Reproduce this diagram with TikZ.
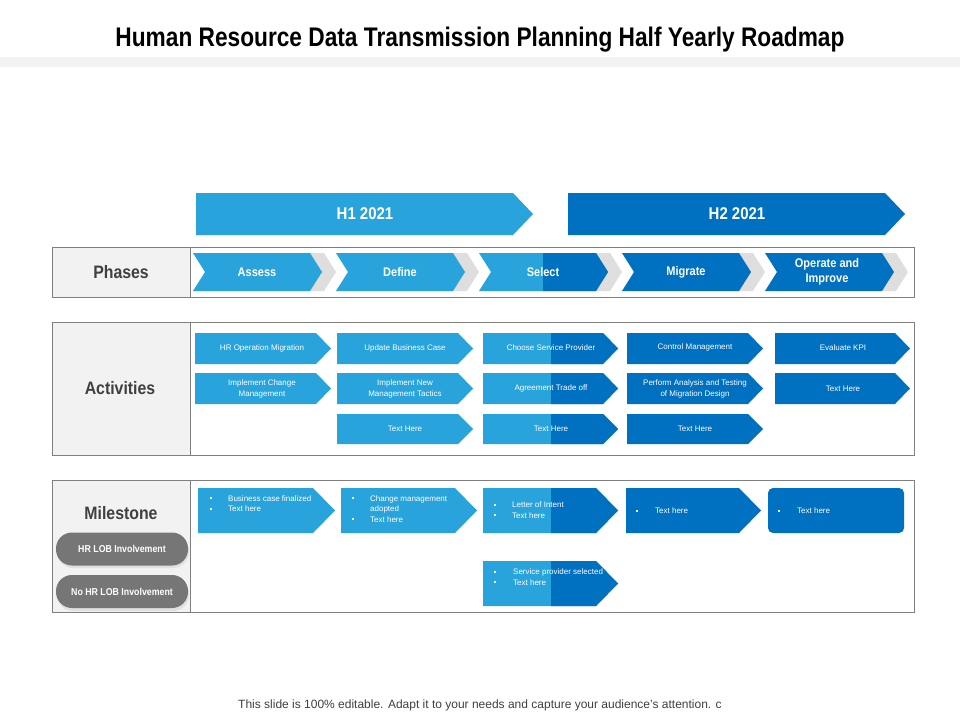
\documentclass[tikz,border=0pt]{standalone}
\usepackage{fontspec}
\setmainfont{Liberation Sans}
\newfontfamily\condb{Liberation Sans}[FakeStretch=0.88]
\definecolor{lb}{RGB}{41,163,219}
\definecolor{db}{RGB}{0,112,192}
\definecolor{cellgray}{RGB}{242,242,242}
\definecolor{bordergray}{RGB}{128,128,128}
\definecolor{labelgray}{RGB}{64,64,64}
\definecolor{btngray}{RGB}{118,118,118}
\definecolor{shadegray}{RGB}{222,222,222}
\newcommand\penta[6]{\fill[#6] (#1,#2) -- ({#3-#5},#2) -- (#3,{(#2+#4)/2}) -- ({#3-#5},#4) -- (#1,#4) -- cycle;}
\newcommand\splitpenta[6]{\penta{#1}{#2}{#3}{#4}{#5}{lb}%
  \begin{scope}\clip (#6,#2) rectangle ({#3+1},#4);\penta{#1}{#2}{#3}{#4}{#5}{db}\end{scope}}
\newcommand\chevr[6]{\fill[#6] (#1,#2) -- ({#3-#5},#2) -- (#3,{(#2+#4)/2}) -- ({#3-#5},#4) -- (#1,#4) -- ({#1+#5},{(#2+#4)/2}) -- cycle;}
\newcommand\mbul{\raisebox{1.8pt}{\rule{2pt}{2pt}}}
\tikzset{
  boxline/.style={draw=bordergray, line width=0.9pt},
  rowlabel/.style={font=\condb\bfseries\fontsize{18}{20}\selectfont, text=labelgray, inner sep=0pt},
  halftxt/.style={font=\condb\bfseries\fontsize{17}{19}\selectfont, text=white, inner sep=0pt},
  phasetxt/.style={font=\condb\bfseries\fontsize{12.5}{15}\selectfont, text=white, inner sep=0pt, align=center},
  acttxt/.style={font=\fontsize{8}{11}\selectfont, text=white, inner sep=0pt, align=center},
  mstxt/.style={font=\fontsize{8}{10.5}\selectfont, text=white, inner sep=0pt, anchor=base west},
  msbul/.style={text=white, inner sep=0pt, anchor=base west},
  pill/.style={fill=btngray, rounded corners=16pt, minimum width=132pt, minimum height=33pt, inner sep=0pt,
     text=white, font=\condb\bfseries\fontsize{10}{12}\selectfont}
}
\begin{document}
\begin{tikzpicture}[x=1pt,y=-1pt]
\useasboundingbox (0,0) rectangle (960,720);
\fill[white] (0,0) rectangle (960,720);
% title
\node[anchor=base, inner sep=0pt] (title) at (480,46) {\resizebox{729pt}{19.5pt}{\bfseries Human Resource Data Transmission Planning Half Yearly Roadmap}};
\fill[cellgray] (0,57) rectangle (960,67);
% half-year arrows
\penta{196}{193}{533}{235}{20}{lb}
\penta{568}{193}{905}{235}{20}{db}
\node[halftxt] (h1) at (365,214) {H1 2021};
\node[halftxt] (h2) at (737,214) {H2 2021};
% frames
\fill[cellgray] (52,247) rectangle (190,297);
\fill[cellgray] (52,322) rectangle (190,455);
\fill[cellgray] (52,480) rectangle (190,612);
\draw[boxline] (52,247) rectangle (914,297) (190,247) -- (190,297);
\draw[boxline] (52,322) rectangle (914,455) (190,322) -- (190,455);
\draw[boxline] (52,480) rectangle (914,612) (190,480) -- (190,612);
\node[rowlabel] (lphases) at (121,272) {Phases};
\node[rowlabel] (lact) at (120,388) {Activities};
\node[rowlabel] (lmile) at (121,513) {Milestone};
% phases chevrons
\foreach \a/\b in {193/322,336/465,479/608,622/751,765/894}{
  \chevr{\a+12}{253}{\b+14}{291}{12}{shadegray}
}
\chevr{193}{253}{322}{291}{12}{lb}
\chevr{336}{253}{465}{291}{12}{lb}
\chevr{479}{253}{608}{291}{12}{lb}
\begin{scope}\clip (543,250) rectangle (612,294);\chevr{479}{253}{608}{291}{12}{db}\end{scope}
\chevr{622}{253}{751}{291}{12}{db}
\chevr{765}{253}{894}{291}{12}{db}
\node[phasetxt] (pa) at (257,272) {Assess};
\node[phasetxt] (pd) at (400,272) {Define};
\node[phasetxt] (ps) at (543,272) {Select};
\node[phasetxt] (pm) at (686,272) {Migrate};
\node[phasetxt] (po) at (827,272) {Operate and\\Improve};
% activities
\penta{195}{333}{331}{364}{15}{lb}
\penta{195}{373}{331}{404}{15}{lb}
\penta{337}{333}{473}{364}{15}{lb}
\penta{337}{373}{473}{404}{15}{lb}
\penta{337}{414}{473}{444}{15}{lb}
\splitpenta{483}{333}{618}{364}{15}{551}
\splitpenta{483}{373}{618}{404}{15}{551}
\splitpenta{483}{414}{618}{444}{15}{551}
\penta{627}{333}{763}{364}{15}{db}
\penta{627}{373}{763}{404}{15}{db}
\penta{627}{414}{763}{444}{15}{db}
\penta{775}{333}{910}{364}{15}{db}
\penta{775}{373}{910}{404}{15}{db}
\node[acttxt] (a11) at (262,348) {HR Operation Migration};
\node[acttxt] (a12) at (262,388.5) {Implement Change\\Management};
\node[acttxt] (a21) at (405,348) {Update Business Case};
\node[acttxt] (a22) at (405,388.5) {Implement New\\Management Tactics};
\node[acttxt] (a23) at (405,429) {Text Here};
\node[acttxt] (a31) at (551,348) {Choose Service Provider};
\node[acttxt] (a32) at (551,388.5) {Agreement Trade off};
\node[acttxt] (a33) at (551,429) {Text Here};
\node[acttxt] (a41) at (695,347) {Control Management};
\node[acttxt] (a42) at (695,388.5) {Perform Analysis and Testing\\of Migration Design};
\node[acttxt] (a43) at (695,429) {Text Here};
\node[acttxt] (a51) at (843,348) {Evaluate KPI};
\node[acttxt] (a52) at (843,388.5) {Text Here};
% milestones
\penta{198}{488}{335}{533}{22}{lb}
\penta{341}{488}{477}{533}{22}{lb}
\splitpenta{483}{488}{618}{533}{22}{551}
\penta{626}{488}{761}{533}{22}{db}
\fill[db, rounded corners=5pt] (768,488) rectangle (904,533);
\splitpenta{483}{561}{618}{606}{22}{551}
% milestone texts
\node[msbul] (b11) at (210,501) {\mbul};
\node[mstxt] (t11) at (228,501) {Business case finalized};
\node[msbul] (b12) at (210,511.5) {\mbul};
\node[mstxt] (t12) at (228,511.5) {Text here};
\node[msbul] (b21) at (352,501) {\mbul};
\node[mstxt] (t21) at (370,501) {Change management};
\node[mstxt] (t21b) at (370,511.5) {adopted};
\node[msbul] (b22) at (352,522) {\mbul};
\node[mstxt] (t22) at (370,522) {Text here};
\node[msbul] (b31) at (494,507.5) {\mbul};
\node[mstxt] (t31) at (512,507.5) {Letter of Intent};
\node[msbul] (b32) at (494,518) {\mbul};
\node[mstxt] (t32) at (512,518) {Text here};
\node[msbul] (b41) at (636,513.5) {\mbul};
\node[mstxt] (t41) at (655,513.5) {Text here};
\node[msbul] (b51) at (778,513.5) {\mbul};
\node[mstxt] (t51) at (797,513.5) {Text here};
\node[msbul] (b61) at (494,574.5) {\mbul};
\node[mstxt] (t61) at (513,574.5) {Service provider selected};
\node[msbul] (b62) at (494,585) {\mbul};
\node[mstxt] (t62) at (513,585) {Text here};
% legend pills
\fill[black!12, rounded corners=16pt] (57,535) rectangle (189,568);
\fill[black!12, rounded corners=16pt] (57,578) rectangle (189,611);
\node[pill] (hr) at (122,549) {HR LOB Involvement};
\node[pill] (nohr) at (122,591.5) {No HR LOB Involvement};
% footer
\node[font=\fontsize{12}{14}\selectfont, text=labelgray, inner sep=0pt] (foot) at (480,705) {This slide is 100\% editable. Adapt it to your needs and capture your audience's attention. c};
\end{tikzpicture}
\end{document}
